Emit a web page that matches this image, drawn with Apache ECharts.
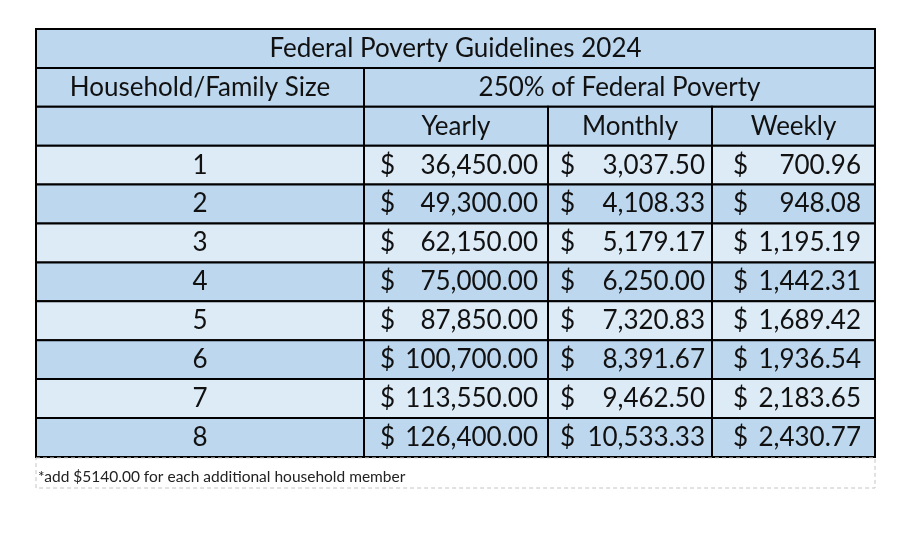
<!DOCTYPE html>
<html>
<head>
<meta charset="utf-8">
<script src="https://cdn.jsdelivr.net/npm/echarts@6/dist/echarts.min.js"></script>
<style>
  html, body { margin: 0; padding: 0; background: #fff; }
  #main { width: 911px; height: 533px; }
</style>
</head>
<body>
<div id="main"></div>
<script>
// table data
var title = 'Federal Poverty Guidelines 2024';
var sizeHeader = 'Household/Family Size';
var groupHeader = '250% of Federal Poverty';
var periods = ['Yearly', 'Monthly', 'Weekly'];
var sizes = ['1', '2', '3', '4', '5', '6', '7', '8'];
var yearly = [36450.00, 49300.00, 62150.00, 75000.00, 87850.00, 100700.00, 113550.00, 126400.00];
var monthly = [3037.50, 4108.33, 5179.17, 6250.00, 7320.83, 8391.67, 9462.50, 10533.33];
var weekly = [700.96, 948.08, 1195.19, 1442.31, 1689.42, 1936.54, 2183.65, 2430.77];
var footnote = '*add $5140.00 for each additional household member';

// layout: column edges (axis units = px), row units
var colEdges = [0, 328, 512, 676, 839];
var moneyPad = [[16, 10], [12, 7], [21, 14]]; // left pad of "$", right pad of number
var headFill = '#BDD7EE';
var lightFill = '#DDEBF7';
var font = 'Lato, "Noto Sans", sans-serif';
var fs = 26;

function fmt(v) {
  var s = v.toFixed(2).split('.');
  return s[0].replace(/\B(?=(\d{3})+(?!\d))/g, ',') + '.' + s[1];
}

var cells = [];
var data = [];
function addCell(x0, x1, r0, r1, info) {
  data.push([x0, x1, r0, r1]);
  cells.push(info);
}

addCell(colEdges[0], colEdges[4], 0, 1, { text: title, fill: headFill });
addCell(colEdges[0], colEdges[1], 1, 2, { text: sizeHeader, fill: headFill });
addCell(colEdges[1], colEdges[4], 1, 2, { text: groupHeader, fill: headFill });
addCell(colEdges[0], colEdges[1], 2, 3, { text: '', fill: headFill });
periods.forEach(function (p, i) {
  addCell(colEdges[i + 1], colEdges[i + 2], 2, 3, { text: p, fill: headFill });
});
var cols = [yearly, monthly, weekly];
sizes.forEach(function (s, r) {
  var fill = r % 2 === 0 ? lightFill : headFill;
  addCell(colEdges[0], colEdges[1], 3 + r, 4 + r, { text: s, fill: fill });
  cols.forEach(function (arr, c) {
    addCell(colEdges[c + 1], colEdges[c + 2], 3 + r, 4 + r, { money: fmt(arr[r]), col: c, fill: fill });
  });
});
addCell(colEdges[0], colEdges[4], 11, 11.8, { note: footnote });

function renderItem(params, api) {
  var c = cells[params.dataIndex];
  var p0 = api.coord([api.value(0), api.value(2)]);
  var p1 = api.coord([api.value(1), api.value(3)]);
  var x = p0[0], y = p0[1], w = p1[0] - p0[0], h = p1[1] - p0[1];
  var cy = y + h / 2;
  var children = [];
  if (c.note) {
    children.push({
      type: 'rect', shape: { x: x, y: y + 1, width: w, height: h - 1 },
      style: { fill: '#fff', stroke: '#c4c4c4', lineWidth: 1, lineDash: [4, 3] }
    });
    children.push({
      type: 'text',
      style: { text: c.note, x: x + 2, y: cy + 5, align: 'left', verticalAlign: 'middle',
        fill: '#222', fontSize: 15.5, fontFamily: font }
    });
    return { type: 'group', children: children };
  }
  children.push({
    type: 'rect', shape: { x: x, y: y, width: w, height: h },
    style: { fill: c.fill, stroke: '#000', lineWidth: 2 }
  });
  if (c.money) {
    var pad = moneyPad[c.col];
    children.push({
      type: 'text',
      style: { text: '$', x: x + pad[0], y: cy, align: 'left', verticalAlign: 'middle',
        fill: '#111', fontSize: fs, fontFamily: font }
    });
    children.push({
      type: 'text',
      style: { text: c.money, x: x + w - pad[1], y: cy, align: 'right', verticalAlign: 'middle',
        fill: '#111', fontSize: fs, fontFamily: font }
    });
  } else if (c.text) {
    children.push({
      type: 'text',
      style: { text: c.text, x: x + w / 2, y: cy, align: 'center', verticalAlign: 'middle',
        fill: '#111', fontSize: fs, fontFamily: font }
    });
  }
  return { type: 'group', children: children };
}

var chart = echarts.init(document.getElementById('main'));
chart.setOption({
  animation: false,
  backgroundColor: '#fff',
  grid: { left: 36, right: 36, top: 29, bottom: 45 },
  xAxis: { type: 'value', min: 0, max: colEdges[4], show: false },
  yAxis: { type: 'value', min: 0, max: 11.8, inverse: true, show: false },
  series: [{
    type: 'custom',
    clip: false,
    renderItem: renderItem,
    data: data
  }]
});
</script>
</body>
</html>
